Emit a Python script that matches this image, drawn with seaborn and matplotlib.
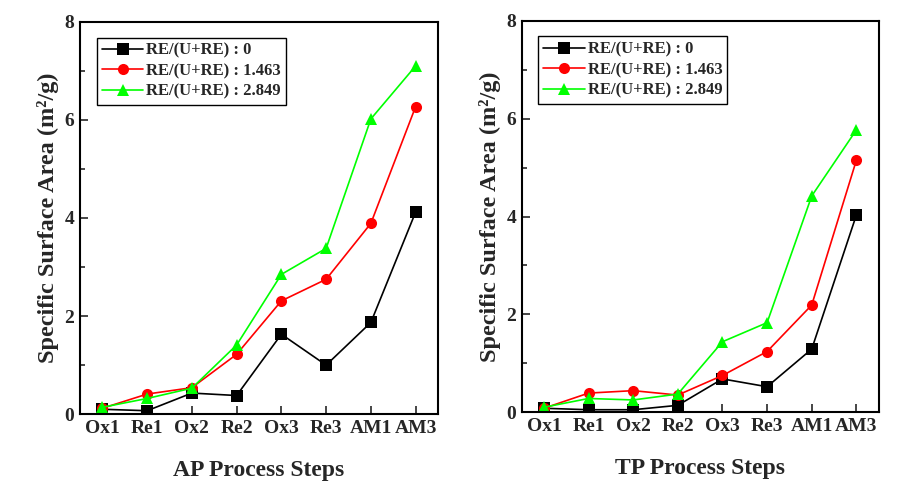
import matplotlib
matplotlib.use("Agg")
import matplotlib.pyplot as plt
import seaborn as sns
import pandas as pd
from matplotlib.ticker import MultipleLocator

steps = ["Ox1", "Re1", "Ox2", "Re2", "Ox3", "Re3", "AM1", "AM3"]
series_names = ["RE/(U+RE) : 0", "RE/(U+RE) : 1.463", "RE/(U+RE) : 2.849"]

ap_0 = [0.10, 0.07, 0.43, 0.38, 1.63, 1.00, 1.87, 4.12]
ap_1463 = [0.12, 0.41, 0.54, 1.22, 2.31, 2.75, 3.89, 6.27]
ap_2849 = [0.14, 0.32, 0.53, 1.41, 2.85, 3.38, 6.02, 7.10]

tp_0 = [0.08, 0.05, 0.05, 0.14, 0.68, 0.52, 1.29, 4.03]
tp_1463 = [0.08, 0.39, 0.44, 0.35, 0.75, 1.24, 2.19, 5.15]
tp_2849 = [0.10, 0.28, 0.25, 0.37, 1.44, 1.83, 4.42, 5.77]

sns.set_theme(style="ticks")
plt.rcParams['font.family'] = ['Liberation Serif', 'DejaVu Serif']
plt.rcParams['font.weight'] = 'bold'
plt.rcParams['axes.labelweight'] = 'bold'

colors = {series_names[0]: "black", series_names[1]: "#ff0000", series_names[2]: "#00ff00"}
markers = {series_names[0]: "s", series_names[1]: "o", series_names[2]: "^"}


def make_df(vals):
    rows = []
    for name, v in zip(series_names, vals):
        for i, (s, y) in enumerate(zip(steps, v)):
            rows.append({"idx": i, "step": s, "series": name, "value": y})
    return pd.DataFrame(rows)


fig = plt.figure(figsize=(9.04, 4.96), dpi=100)
ax1 = fig.add_axes([0.0885, 0.165, 0.396, 0.791])
ax2 = fig.add_axes([0.577, 0.169, 0.395, 0.789])

for ax, vals, xl in [(ax1, [ap_0, ap_1463, ap_2849], "AP Process Steps"),
                     (ax2, [tp_0, tp_1463, tp_2849], "TP Process Steps")]:
    df = make_df(vals)
    sns.lineplot(data=df, x="idx", y="value", hue="series", style="series",
                 palette=colors, markers=markers, dashes=False,
                 markersize=8, markeredgewidth=0, linewidth=1.2, ax=ax)
    ax.set_xlim(-0.5, 7.5)
    ax.set_ylim(0, 8)
    ax.set_xticks(range(len(steps)))
    ax.set_xticklabels(steps)
    ax.yaxis.set_major_locator(MultipleLocator(2))
    ax.yaxis.set_minor_locator(MultipleLocator(1))
    ax.tick_params(axis='both', which='major', direction='in', length=6, width=1.2,
                   labelsize=14, pad=4)
    ax.tick_params(axis='y', which='minor', direction='in', length=3.5, width=1.2)
    for lab in ax.get_xticklabels() + ax.get_yticklabels():
        lab.set_fontweight('bold')
    for sp in ax.spines.values():
        sp.set_linewidth(1.5)
        sp.set_color('black')
    ax.set_xlabel(xl, fontsize=17, fontweight='bold', labelpad=17)
    ax.set_ylabel("Specific Surface Area (m²/g)", fontsize=17.5, fontweight='bold', labelpad=4)
    leg = ax.legend(loc='upper left', bbox_to_anchor=(0.047, 0.96), borderaxespad=0,
                    fancybox=False, edgecolor='black', framealpha=1, handlelength=2.5,
                    borderpad=0.3, labelspacing=0.28, handletextpad=0.15,
                    prop={'weight': 'bold', 'size': 12})
    leg.get_frame().set_linewidth(1.0)

fig.savefig("out.png", dpi=100)
